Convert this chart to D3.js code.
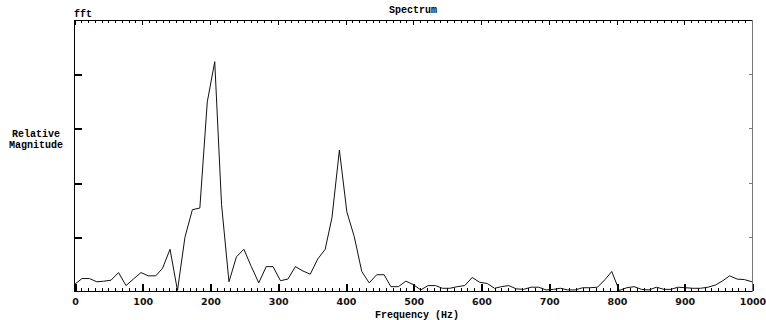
<!DOCTYPE html>
<html>
<head>
<meta charset="utf-8">
<script src="https://cdn.jsdelivr.net/npm/d3@7"></script>
<style>
  body { margin: 0; background: #fff; }
  svg { display: block; }
  .mono { font-family: "Liberation Mono", "Courier New", monospace; font-weight: bold; font-size: 10px; }
  .num { font-family: "DejaVu Sans", Verdana, sans-serif; font-weight: bold; font-size: 9.5px; }
</style>
</head>
<body>
<svg id="chart"></svg>
<script>
// FFT bins (Hz)
const freqs = [0, 11, 22, 33, 43, 54, 65, 76, 87, 98, 109, 120, 130, 141, 152, 163, 174, 185, 196, 207,
  217, 228, 239, 250, 261, 272, 283, 293, 304, 315, 326, 337, 348, 359, 370, 380, 391, 402, 413, 424,
  435, 446, 457, 467, 478, 489, 500, 511, 522, 533, 543, 554, 565, 576, 587, 598, 609, 620, 630, 641,
  652, 663, 674, 685, 696, 707, 717, 728, 739, 750, 761, 772, 783, 793, 804, 815, 826, 837, 848, 859,
  870, 880, 891, 902, 913, 924, 935, 946, 957, 967, 978, 989, 1000];

// relative magnitude
const magnitude = [0.12, 0.23, 0.23, 0.17, 0.18, 0.20, 0.34, 0.10, 0.22, 0.34, 0.28, 0.28, 0.42, 0.77, 0.01, 0.99, 1.50, 1.53, 3.49, 4.23,
  1.60, 0.17, 0.63, 0.77, 0.45, 0.15, 0.45, 0.45, 0.19, 0.22, 0.45, 0.37, 0.31, 0.59, 0.77, 1.35, 2.60, 1.46, 1.00, 0.36,
  0.15, 0.30, 0.30, 0.08, 0.08, 0.18, 0.12, 0.02, 0.10, 0.10, 0.05, 0.05, 0.08, 0.10, 0.25, 0.16, 0.14, 0.05, 0.08, 0.10,
  0.04, 0.03, 0.07, 0.07, 0.02, 0.03, 0.05, 0.02, 0.02, 0.06, 0.06, 0.07, 0.21, 0.36, 0.01, 0.06, 0.08, 0.03, 0.02, 0.07,
  0.03, 0.03, 0.07, 0.06, 0.05, 0.05, 0.07, 0.11, 0.19, 0.28, 0.22, 0.21, 0.17];

const xTicks = [0, 100, 200, 300, 400, 500, 600, 700, 800, 900, 1000];
const yTicks = [1, 2, 3, 4];

const width = 766, height = 320;
const margin = {top: 20, right: 14, bottom: 29, left: 74.5};

const svg = d3.select("#chart").attr("width", width).attr("height", height);

const x = d3.scaleLinear().domain([0, 1000]).range([margin.left, width - margin.right]);
const y = d3.scaleLinear().domain([0, 5]).range([height - margin.bottom, margin.top]);

const x0 = x.range()[0], x1 = x.range()[1];
const y0 = y.range()[0], y1 = y.range()[1];

// minor ticks every 10 Hz, top and bottom
const minor = d3.range(0, 1001, 10).filter(d => d % 100 !== 0);

const ax = svg.append("g").attr("stroke", "#000").attr("shape-rendering", "crispEdges");

ax.selectAll(".mb").data(minor).enter().append("line")
    .attr("x1", d => Math.round(x(d)) + 0.5).attr("x2", d => Math.round(x(d)) + 0.5)
    .attr("y1", y0).attr("y2", y0 - 3);
ax.selectAll(".mt").data(minor).enter().append("line")
    .attr("x1", d => Math.round(x(d)) + 0.5).attr("x2", d => Math.round(x(d)) + 0.5)
    .attr("y1", y1).attr("y2", y1 + 3);

ax.selectAll(".Mb").data(xTicks).enter().append("line")
    .attr("x1", d => Math.round(x(d)) + 0.5).attr("x2", d => Math.round(x(d)) + 0.5)
    .attr("y1", y0).attr("y2", y0 - 7).attr("stroke-width", 2);
ax.selectAll(".Mt").data(xTicks).enter().append("line")
    .attr("x1", d => Math.round(x(d)) + 0.5).attr("x2", d => Math.round(x(d)) + 0.5)
    .attr("y1", y1).attr("y2", y1 + 5);

// left ticks (inward)
ax.selectAll(".yl").data(yTicks).enter().append("line")
    .attr("x1", x0).attr("x2", x0 + 7)
    .attr("y1", d => Math.round(y(d)) + 0.5).attr("y2", d => Math.round(y(d)) + 0.5)
    .attr("stroke-width", 2);
// right ticks (small, gray)
ax.selectAll(".yr").data(yTicks).enter().append("line")
    .attr("x1", x1).attr("x2", x1 - 3)
    .attr("y1", d => Math.round(y(d)) + 0.5).attr("y2", d => Math.round(y(d)) + 0.5)
    .attr("stroke", "#777");

// frame
ax.append("line").attr("x1", x0).attr("x2", x1).attr("y1", y1 + 0.5).attr("y2", y1 + 0.5);
ax.append("line").attr("x1", x0).attr("x2", x1).attr("y1", y0 + 0.5).attr("y2", y0 + 0.5).attr("stroke-width", 1.5);
ax.append("line").attr("x1", x0).attr("x2", x0).attr("y1", y1).attr("y2", y0 + 1).attr("stroke-width", 1.5);
ax.append("line").attr("x1", x1 + 0.5).attr("x2", x1 + 0.5).attr("y1", y1).attr("y2", y0 + 1).attr("stroke", "#777");

// spectrum line
const line = d3.line()
    .x((d, i) => x(freqs[i]))
    .y(d => y(d));

svg.append("path")
    .datum(magnitude)
    .attr("fill", "none")
    .attr("stroke", "#111")
    .attr("stroke-width", 1)
    .attr("d", line);

// tick labels
svg.append("g").selectAll("text").data(xTicks).enter().append("text")
    .attr("class", "num")
    .attr("x", d => x(d) + 1)
    .attr("y", 305)
    .attr("text-anchor", "middle")
    .attr("fill", "#111")
    .text(d => d);

// titles
svg.append("text").attr("class", "mono").attr("x", 413).attr("y", 13)
    .attr("text-anchor", "middle").text("Spectrum");
svg.append("text").attr("class", "mono").attr("x", 74).attr("y", 17).text("fft");
svg.append("text").attr("class", "mono").attr("x", 36).attr("y", 137)
    .attr("text-anchor", "middle").text("Relative");
svg.append("text").attr("class", "mono").attr("x", 36).attr("y", 148)
    .attr("text-anchor", "middle").text("Magnitude");
svg.append("text").attr("class", "mono").attr("x", 417).attr("y", 318)
    .attr("text-anchor", "middle").text("Frequency (Hz)");
</script>
</body>
</html>
